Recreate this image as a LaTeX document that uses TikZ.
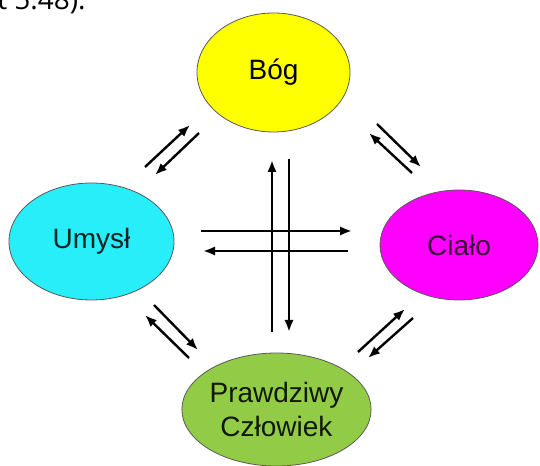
\documentclass[tikz,border=0pt]{standalone}
\usepackage{fontspec}
\setmainfont{Liberation Sans}
\newfontfamily\capfont{Open Sans}
\usetikzlibrary{shapes.geometric,arrows.meta}
\definecolor{bogfill}{RGB}{255,255,0}
\definecolor{umyslfill}{RGB}{40,238,250}
\definecolor{cialofill}{RGB}{255,0,255}
\definecolor{czlfill}{RGB}{146,204,70}
\tikzstyle{blob} = [draw=black!65, line width=0.6pt, ellipse, inner sep=0pt, align=center, font=\fontsize{21}{25}\selectfont]
\tikzstyle{flow} = [-{Latex[length=9pt,width=7pt]}, line width=1.8pt]

\begin{document}
\begin{tikzpicture}[x=0.75pt, y=-0.75pt]
\useasboundingbox (0,0) rectangle (540,466);
\clip (0,0) rectangle (540,466);
\node (cut) [anchor=base west, inner sep=0pt, font=\capfont\fontsize{21}{21}\selectfont] at (-3,10) {t 5.48).};
\node (bog) [blob, fill=bogfill, text=black, minimum width=114.75pt, minimum height=89.25pt] at (273.5,72.5) {Bóg};
\node (umysl) [blob, fill=umyslfill, text=umyslfill!15!black, minimum width=123.75pt, minimum height=87.75pt] at (91.5,241.5) {Umysł};
\node (cialo) [blob, fill=cialofill, text=cialofill!20!black, minimum width=118.5pt, minimum height=82.5pt] at (459,245) {Ciało};
\node (czlowiek) [blob, fill=czlfill, text=czlfill!12!black, minimum width=122.25pt, minimum height=84.75pt] at (276.5,409.5) {Prawdziwy\\Człowiek};
% middle cross
\coordinate (up-s) at (272,332);
\coordinate (up-e) at (272,160);
\coordinate (down-s) at (289,159);
\coordinate (down-e) at (289,332);
\coordinate (right-s) at (201,231);
\coordinate (right-e) at (352,231);
\coordinate (left-s) at (348,251);
\coordinate (left-e) at (203,251);
\draw [flow] (up-s) -- (up-e);
\draw [flow] (down-s) -- (down-e);
\draw [flow] (right-s) -- (right-e);
\draw [flow] (left-s) -- (left-e);
% Umysl - Bog
\coordinate (ub-s) at (145,167);
\coordinate (ub-e) at (190,125);
\coordinate (bu-s) at (199,133);
\coordinate (bu-e) at (155,175);
\draw [flow] (ub-s) -- (ub-e);
\draw [flow] (bu-s) -- (bu-e);
% Bog - Cialo
\coordinate (bc-s) at (377,124);
\coordinate (bc-e) at (421,167);
\coordinate (cb-s) at (412,173);
\coordinate (cb-e) at (369,133);
\draw [flow] (bc-s) -- (bc-e);
\draw [flow] (cb-s) -- (cb-e);
% Umysl - Czlowiek
\coordinate (uc-s) at (154,305);
\coordinate (uc-e) at (198,350);
\coordinate (cu-s) at (189,358);
\coordinate (cu-e) at (145,315);
\draw [flow] (uc-s) -- (uc-e);
\draw [flow] (cu-s) -- (cu-e);
% Czlowiek - Cialo
\coordinate (cc-s) at (358,352);
\coordinate (cc-e) at (405,309);
\coordinate (ck-s) at (413,318);
\coordinate (ck-e) at (368,358);
\draw [flow] (cc-s) -- (cc-e);
\draw [flow] (ck-s) -- (ck-e);
\end{tikzpicture}
\end{document}
